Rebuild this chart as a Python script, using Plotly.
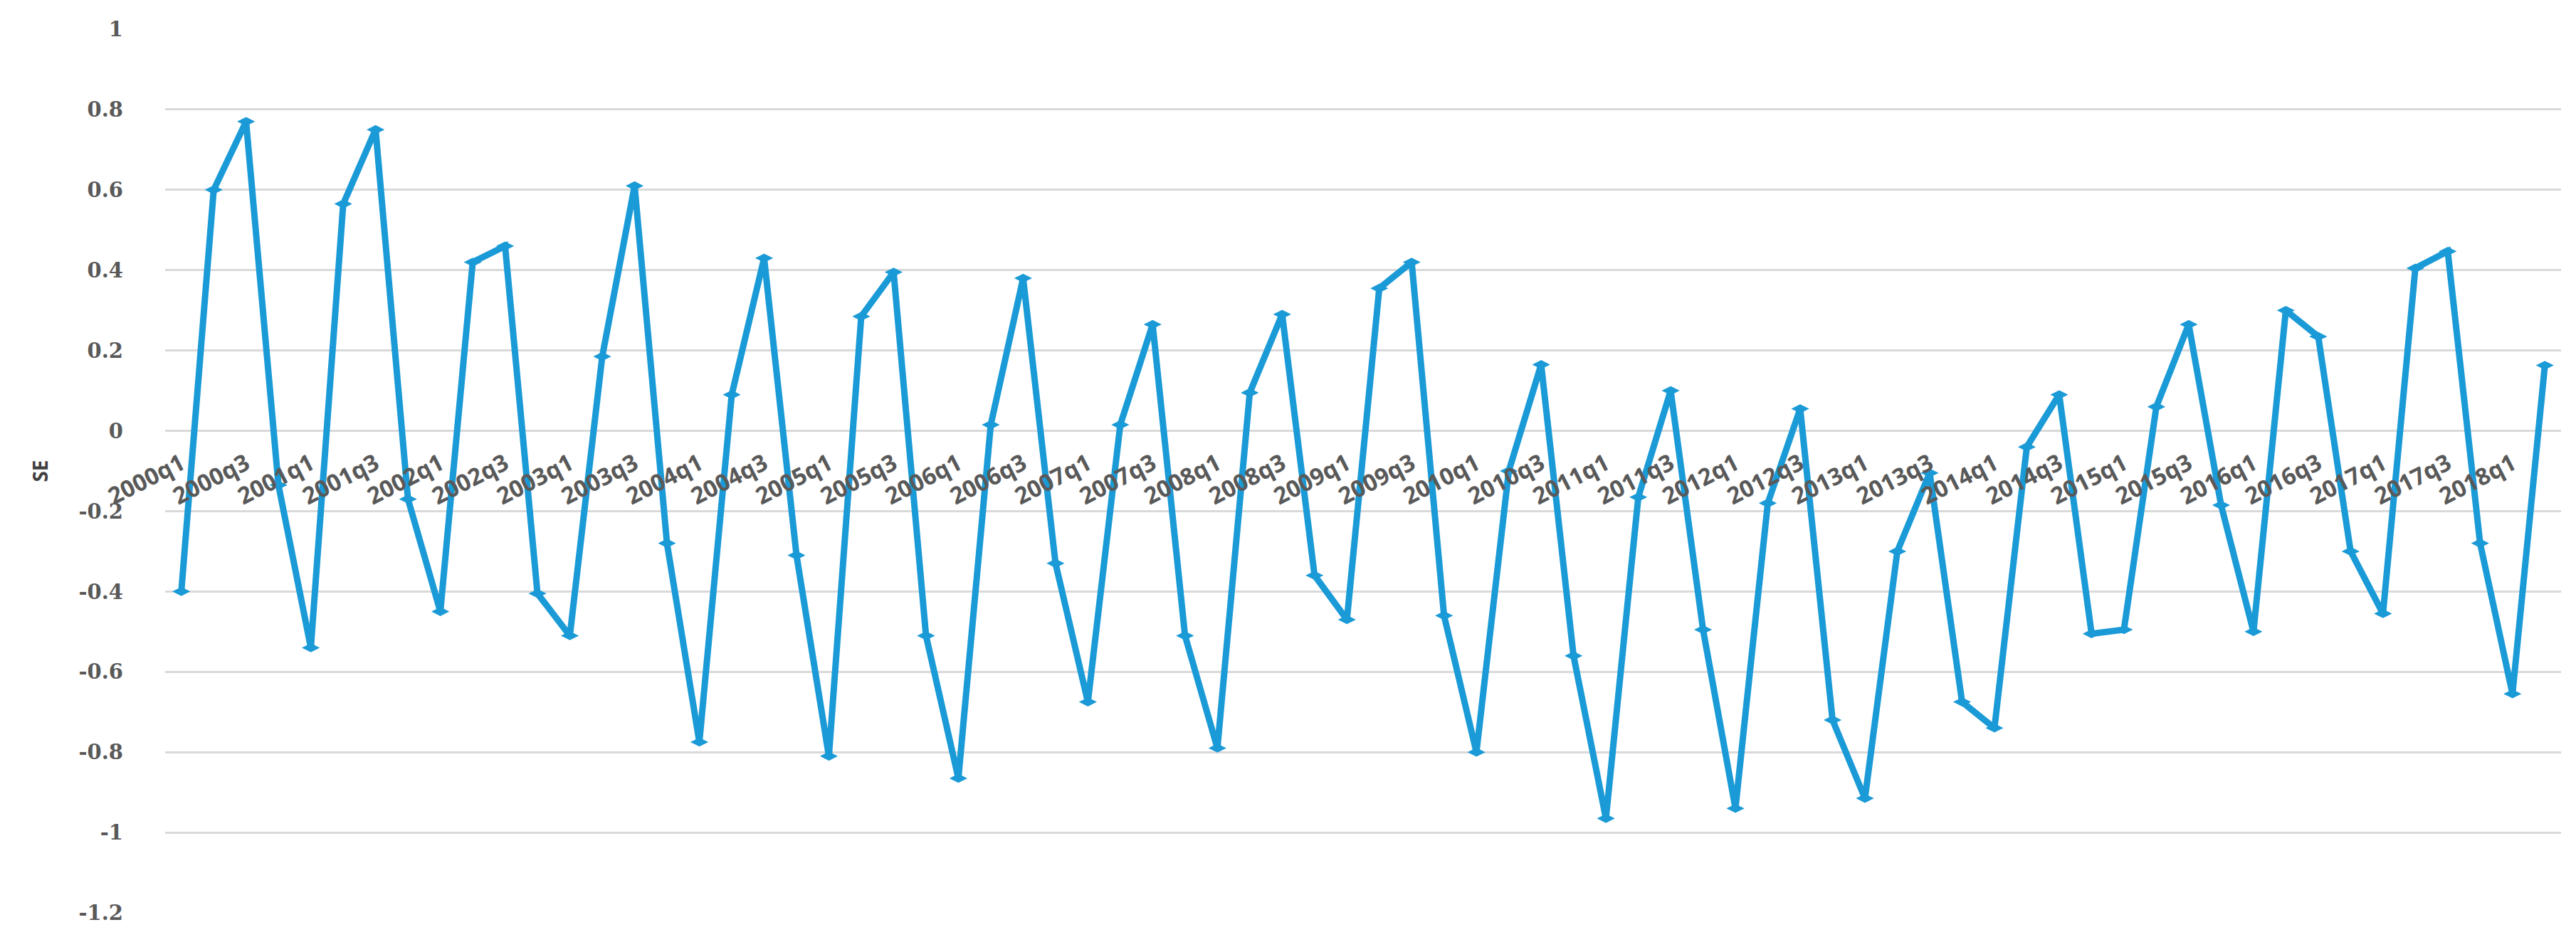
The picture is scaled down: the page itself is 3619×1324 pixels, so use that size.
import plotly.graph_objects as go

# Quarter categories 2000q1 .. 2018q2
quarters = [f"{y}q{q}" for y in range(2000, 2019) for q in range(1, 5)][:74]

# SE series values
se_values = [
    -0.40, 0.60, 0.77, -0.135,
    -0.54, 0.565, 0.75, -0.17,
    -0.45, 0.42, 0.46, -0.405,
    -0.51, 0.185, 0.61, -0.28,
    -0.775, 0.09, 0.43, -0.31,
    -0.81, 0.285, 0.395, -0.51,
    -0.865, 0.015, 0.38, -0.33,
    -0.675, 0.015, 0.265, -0.51,
    -0.79, 0.095, 0.29, -0.36,
    -0.47, 0.355, 0.42, -0.46,
    -0.80, -0.10, 0.165, -0.56,
    -0.965, -0.165, 0.10, -0.495,
    -0.94, -0.18, 0.055, -0.72,
    -0.915, -0.30, -0.105, -0.675,
    -0.74, -0.04, 0.09, -0.505,
    -0.495, 0.06, 0.265, -0.185,
    -0.50, 0.30, 0.235, -0.30,
    -0.455, 0.405, 0.447, -0.28,
    -0.655, 0.163,
]

# Tick labels
x_tick_labels = quarters[::2]
y_tick_vals = [1, 0.8, 0.6, 0.4, 0.2, 0, -0.2, -0.4, -0.6, -0.8, -1, -1.2]
y_tick_text = ["1", "0.8", "0.6", "0.4", "0.2", "0", "-0.2", "-0.4", "-0.6", "-0.8", "-1", "-1.2"]

line_color = "#1a9ad6"
grid_color = "#d9d9d9"
label_color = "#595959"

fig = go.Figure()
fig.add_trace(go.Scatter(
    x=quarters,
    y=se_values,
    mode="lines+markers",
    line=dict(color=line_color, width=9),
    marker=dict(symbol="diamond-wide", size=18, color=line_color),
    showlegend=False,
))

y_min, y_max = -1.2, 1.0
fig.update_layout(
    width=3619,
    height=1324,
    margin=dict(l=224, r=29, t=33, b=49),
    paper_bgcolor="white",
    plot_bgcolor="white",
    xaxis=dict(
        type="category",
        categoryorder="array",
        categoryarray=quarters,
        range=[-0.5, len(quarters) - 0.5],
        tickmode="array",
        tickvals=x_tick_labels,
        ticktext=x_tick_labels,
        tickangle=-27,
        tickfont=dict(family="Open Sans", size=33, color=label_color, weight=700),
        showgrid=False,
        showline=False,
        zeroline=False,
        ticks="",
        ticklabelstandoff=20,
        anchor="free",
        position=(0 - y_min) / (y_max - y_min),
    ),
    yaxis=dict(
        range=[y_min, y_max],
        tickmode="array",
        tickvals=y_tick_vals,
        ticktext=y_tick_text,
        tickfont=dict(family="DejaVu Serif", size=29, color=label_color, weight="bold"),
        showgrid=True,
        gridcolor=grid_color,
        gridwidth=2.5,
        zeroline=True,
        zerolinecolor=grid_color,
        zerolinewidth=2.5,
        showline=False,
        ticks="",
        ticklabelstandoff=58,
        title=dict(
            text="SE",
            font=dict(family="Open Sans", size=28, color="#404040", weight="bold"),
            standoff=34,
        ),
    ),
)

fig.write_html("out.html")
